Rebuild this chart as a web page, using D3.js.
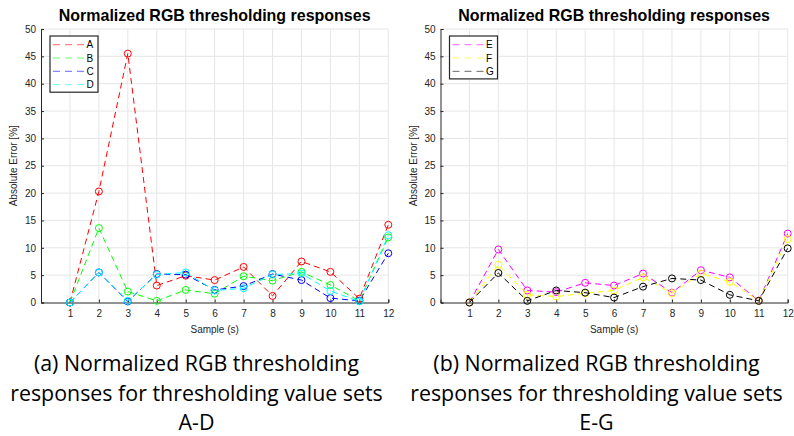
<!DOCTYPE html>
<html>
<head>
<meta charset="utf-8">
<script src="https://cdn.jsdelivr.net/npm/d3@7"></script>
<style>
  html, body { margin: 0; padding: 0; background: #fff; }
  svg { display: block; }
</style>
</head>
<body>
<svg id="chart" width="794" height="436"></svg>
<script>
// ---- data ----
const samples = [1, 2, 3, 4, 5, 6, 7, 8, 9, 10, 11, 12];
const seriesA = [0, 20.3, 45.5, 3.1, 4.9, 4.1, 6.5, 1.2, 7.5, 5.6, 0.7, 14.2];
const seriesB = [0, 13.6, 2.0, 0.3, 2.3, 1.6, 4.8, 4.0, 5.6, 3.2, 0.3, 11.9];
const seriesC = [0, 5.5, 0.2, 5.2, 5.1, 2.3, 3.0, 5.2, 4.1, 0.8, 0.3, 9.0];
const seriesD = [0, 5.5, 0.3, 5.1, 5.5, 2.2, 2.6, 5.1, 5.3, 2.1, 0.2, 12.3];
const seriesE = [0, 9.7, 2.2, 1.9, 3.6, 3.1, 5.3, 1.8, 5.9, 4.6, 0.3, 12.6];
const seriesF = [0, 6.9, 1.4, 1.1, 1.7, 2.2, 4.6, 1.7, 5.3, 3.8, 0.3, 11.6];
const seriesG = [0, 5.4, 0.3, 2.2, 1.8, 0.9, 2.9, 4.4, 4.1, 1.4, 0.3, 9.9];
const namesLeft = ["A", "B", "C", "D"];
const namesRight = ["E", "F", "G"];
const colorsLeft = ["#ff0000", "#00ff00", "#0000ff", "#00ffff"];
const colorsRight = ["#ff00ff", "#ffff00", "#000000"];
const yTicks = [0, 5, 10, 15, 20, 25, 30, 35, 40, 45, 50];
const chartTitle = "Normalized RGB thresholding responses";
const xLabel = "Sample (s)";
const yLabel = "Absolute Error [%]";
const captionLeft = ["(a) Normalized RGB thresholding", "responses for thresholding value sets", "A-D"];
const captionRight = ["(b) Normalized RGB thresholding", "responses for thresholding value sets", "E-G"];

const svg = d3.select("#chart");
const axisColor = "#262626";
const gridColor = "#e6e6e6";
const tickFont = "Liberation Sans, Arial, sans-serif";
const capFont = "'Open Sans', 'Noto Sans', sans-serif";

// font size such that text has the given width
function fitSize(text, family, weight, base, width) {
  const t = svg.append("text").style("font-family", family).style("font-weight", weight)
    .style("font-size", base + "px").text(text);
  const w = t.node().getComputedTextLength();
  t.remove();
  return base * width / w;
}
const titleSize = fitSize(chartTitle, tickFont, "bold", 14, 312);
const capSize = fitSize(captionLeft[1], capFont, "normal", 20, 373);

function drawPanel(opt) {
  const x = d3.scaleLinear().domain([0, 12]).range([opt.x0, opt.x1]);
  const y = d3.scaleLinear().domain([0, 50]).range([302.5, 29]);
  const g = svg.append("g");

  // grid
  g.append("g").selectAll("line").data(samples).join("line")
    .attr("x1", d => x(d)).attr("x2", d => x(d))
    .attr("y1", y(0)).attr("y2", y(50))
    .attr("stroke", gridColor).attr("stroke-width", 1);
  g.append("g").selectAll("line").data(yTicks.filter(d => d > 0)).join("line")
    .attr("x1", x(0)).attr("x2", x(12))
    .attr("y1", d => y(d)).attr("y2", d => y(d))
    .attr("stroke", gridColor).attr("stroke-width", 1);

  // axes
  const xAxis = d3.axisBottom(x).tickValues(samples).tickSize(-3).tickPadding(7).tickFormat(d3.format("d"));
  const yAxis = d3.axisLeft(y).tickValues(yTicks).tickSize(-3).tickPadding(5).tickFormat(d3.format("d"));
  const gx = g.append("g").attr("transform", `translate(0,${y(0)})`).call(xAxis);
  const gy = g.append("g").attr("transform", `translate(${x(0)},0)`).call(yAxis);
  [gx, gy].forEach(a => {
    a.select(".domain").attr("stroke", axisColor).attr("stroke-width", 1);
    a.selectAll(".tick line").attr("stroke", axisColor);
    a.selectAll(".tick text").attr("fill", axisColor)
      .style("font-family", tickFont).style("font-size", "10px");
  });

  // series
  const line = d3.line().x((d, i) => x(samples[i])).y(d => y(d));
  opt.series.forEach((vals, k) => {
    const col = opt.colors[k];
    g.append("path").datum(vals)
      .attr("d", line).attr("fill", "none")
      .attr("stroke", col).attr("stroke-width", 1)
      .attr("stroke-dasharray", "6,4");
    g.append("g").selectAll("circle").data(vals).join("circle")
      .attr("cx", (d, i) => x(samples[i])).attr("cy", d => y(d))
      .attr("r", 3.5).attr("fill", "none")
      .attr("stroke", col).attr("stroke-width", 1);
  });

  // title
  g.append("text").attr("x", (opt.x0 + opt.x1) / 2).attr("y", 21)
    .attr("text-anchor", "middle").attr("fill", "#000")
    .style("font-family", tickFont).style("font-weight", "bold").style("font-size", titleSize + "px")
    .text(chartTitle);
  // x label
  g.append("text").attr("x", (opt.x0 + opt.x1) / 2).attr("y", 333)
    .attr("text-anchor", "middle").attr("fill", axisColor)
    .style("font-family", tickFont).style("font-size", "10px")
    .text(xLabel);
  // y label
  g.append("text").attr("transform", `translate(${opt.x0 - 24},${(y(0) + y(50)) / 2}) rotate(-90)`)
    .attr("text-anchor", "middle").attr("fill", axisColor)
    .style("font-family", tickFont).style("font-size", "10px")
    .text(yLabel);

  // legend
  const lx = opt.x0 + 9, ly = 36, rowH = 13.3;
  const lh = opt.names.length * rowH + 3;
  g.append("rect").attr("x", lx).attr("y", ly).attr("width", 48).attr("height", lh)
    .attr("fill", "#fff").attr("stroke", axisColor).attr("stroke-width", 1.2);
  opt.names.forEach((nm, k) => {
    const cy = ly + 8.7 + k * rowH;
    g.append("line").attr("x1", lx + 3).attr("x2", lx + 35).attr("y1", cy).attr("y2", cy)
      .attr("stroke", opt.colors[k]).attr("stroke-width", 1).attr("stroke-opacity", 0.6)
      .attr("stroke-dasharray", "7,5");
    g.append("text").attr("x", lx + 36.5).attr("y", cy + 3.6).attr("fill", "#000")
      .style("font-family", tickFont).style("font-size", "10px").text(nm);
  });

  // caption
  opt.caption.forEach((t, k) => {
    g.append("text").attr("x", opt.capX).attr("y", 371 + k * 29.5)
      .attr("text-anchor", "middle").attr("fill", "#000")
      .style("font-family", capFont).style("font-size", capSize + "px")
      .text(t);
  });
}

drawPanel({
  x0: 41, x1: 388.3, names: namesLeft, colors: colorsLeft,
  series: [seriesA, seriesB, seriesC, seriesD], caption: captionLeft, capX: 196.5
});
drawPanel({
  x0: 440.5, x1: 787.7, names: namesRight, colors: colorsRight,
  series: [seriesE, seriesF, seriesG], caption: captionRight, capX: 596.5
});
</script>
</body>
</html>
